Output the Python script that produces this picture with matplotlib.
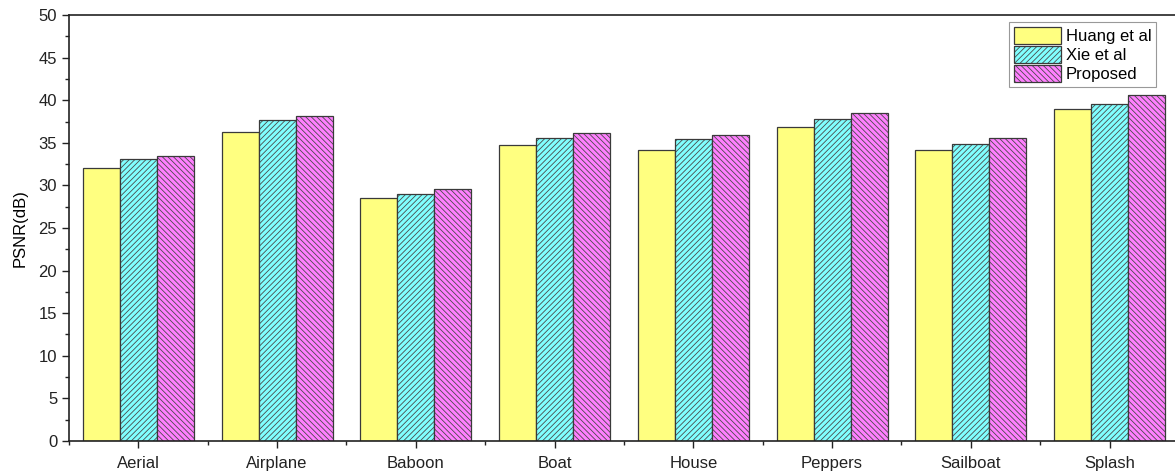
import numpy as np
import matplotlib.pyplot as plt
from matplotlib.ticker import MultipleLocator

plt.rcParams['font.family'] = ['Liberation Sans', 'DejaVu Sans']
plt.rcParams['hatch.linewidth'] = 0.6
plt.rcParams['hatch.color'] = '#4a4a4a'

images = ['Aerial', 'Airplane', 'Baboon', 'Boat', 'House', 'Peppers', 'Sailboat', 'Splash']
huang = [32.0, 36.3, 28.5, 34.7, 34.2, 36.9, 34.1, 39.0]
xie = [33.1, 37.7, 29.0, 35.6, 35.4, 37.8, 34.9, 39.6]
proposed = [33.4, 38.1, 29.6, 36.1, 35.9, 38.5, 35.6, 40.6]
series_names = ['Huang et al', 'Xie et al', 'Proposed']

fig = plt.figure(figsize=(11.75, 4.72), dpi=100)
ax = fig.add_axes([0.0587, 0.0657, 0.9447, 0.9025])

x = np.arange(len(images))
w = 0.8 / 3
edge = '#3a3a3a'
styles = [('#ffff80', ''), ('#80ffff', '//////'), ('#ff80ff', '\\\\\\\\\\\\')]
handles = []
for i, (vals, (col, hat)) in enumerate(zip([huang, xie, proposed], styles)):
    pos = x + (i - 1) * w
    # fill + hatch (hatch colour from rcParams), then the outline on top
    fill = ax.bar(pos, vals, w, color=col, linewidth=0, hatch=hat)
    outline = ax.bar(pos, vals, w, fill=False, edgecolor=edge, linewidth=0.9)
    handles.append((fill[0], outline[0]))

ax.set_xlim(-0.5, len(images) - 0.5)
ax.set_ylim(0, 50)
ax.set_xticks(x)
ax.set_xticklabels(images)
ax.xaxis.set_minor_locator(MultipleLocator(1, offset=0.5))
ax.yaxis.set_major_locator(MultipleLocator(5))
ax.yaxis.set_minor_locator(MultipleLocator(2.5))
ax.tick_params(which='major', direction='out', length=5, width=1, labelsize=12, colors='#222222')
ax.tick_params(which='minor', direction='out', length=3, width=1, colors='#222222')
ax.tick_params(axis='x', which='major', pad=6)
ax.set_ylabel('PSNR(dB)', fontsize=12, labelpad=8)
for s in ax.spines.values():
    s.set_linewidth(1.2)
    s.set_color('#222222')

leg = ax.legend(handles, series_names, loc='upper right', bbox_to_anchor=(0.984, 0.995), fontsize=12,
                fancybox=False, framealpha=1, edgecolor='#999999', handlelength=2.8, handleheight=1.2,
                handletextpad=0.3, borderpad=0.3, labelspacing=0.1, borderaxespad=0.3)
leg.get_frame().set_linewidth(0.8)

fig.savefig('out.png', dpi=100)
